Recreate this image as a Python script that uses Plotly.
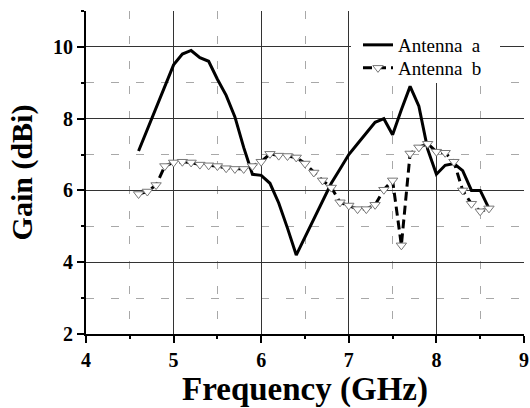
import plotly.graph_objects as go

freq_a = [4.6, 4.7, 4.8, 4.9, 5.0, 5.1, 5.2, 5.3, 5.4, 5.5, 5.6, 5.7, 5.8, 5.9, 6.0,
          6.1, 6.2, 6.3, 6.4, 6.5, 6.6, 6.7, 6.8, 6.9, 7.0, 7.1, 7.2, 7.3, 7.4, 7.5,
          7.6, 7.7, 7.8, 7.9, 8.0, 8.1, 8.2, 8.3, 8.4, 8.5, 8.6]
gain_a = [7.1, 7.7, 8.3, 8.9, 9.5, 9.8, 9.9, 9.7, 9.6, 9.1, 8.65, 8.05, 7.2, 6.45, 6.42,
          6.2, 5.65, 4.95, 4.2, 4.7, 5.2, 5.7, 6.2, 6.6, 7.0, 7.3, 7.6, 7.9, 8.0, 7.55,
          8.25, 8.9, 8.35, 7.15, 6.45, 6.7, 6.75, 6.55, 6.0, 6.0, 5.5]

freq_b = [4.6, 4.7, 4.8, 4.9, 5.0, 5.1, 5.2, 5.3, 5.4, 5.5, 5.6, 5.7, 5.8, 5.9, 6.0,
          6.1, 6.2, 6.3, 6.4, 6.5, 6.6, 6.7, 6.8, 6.9, 7.0, 7.1, 7.2, 7.3, 7.4, 7.5,
          7.6, 7.7, 7.8, 7.9, 8.0, 8.1, 8.2, 8.3, 8.4, 8.5, 8.6]
gain_b = [5.9, 5.97, 6.15, 6.68, 6.78, 6.8, 6.78, 6.72, 6.7, 6.68, 6.62, 6.6, 6.6, 6.68, 6.8,
          7.02, 6.97, 6.96, 6.92, 6.75, 6.5, 6.28, 6.08, 5.67, 5.58, 5.48, 5.48, 5.6, 6.02, 6.28,
          4.47, 7.03, 7.2, 7.3, 7.08, 7.05, 6.8, 6.0, 5.63, 5.42, 5.5]

x_ticks = [4, 5, 6, 7, 8, 9]
y_ticks = [2, 4, 6, 8, 10]

serif = "Liberation Serif"

fig = go.Figure()
fig.add_trace(go.Scatter(
    x=freq_a, y=gain_a, mode="lines", name="Antenna  a",
    line=dict(color="black", width=3), legend="legend",
))
fig.add_trace(go.Scatter(
    x=freq_b, y=gain_b, mode="lines+markers", name="Antenna  b",
    line=dict(color="black", width=3, dash="9px,5px"),
    marker=dict(symbol="triangle-down", size=9, color="white",
                line=dict(color="#777777", width=1)),
    legend="legend2",
))

axis_common = dict(
    showline=True, linecolor="black", linewidth=2,
    ticks="outside", ticklen=7, tickwidth=2, tickcolor="black",
    showgrid=True, gridcolor="#333333", gridwidth=1,
    zeroline=False, automargin=False,
    tickfont=dict(family=serif, size=20, color="black"),
    minor=dict(ticks="outside", ticklen=3, tickwidth=1.5, tickcolor="black",
               showgrid=True, gridcolor="#a8a8a8", gridwidth=1, griddash="8px,17px"),
)

fig.update_xaxes(
    range=[4, 9], tickvals=x_ticks, ticktext=[f"<b>{v}</b>" for v in x_ticks], minor_dtick=0.5,
    title=dict(text="<b>Frequency (GHz)</b>", font=dict(family=serif, size=33, color="black"),
               standoff=6),
    **axis_common,
)
fig.update_yaxes(
    range=[2, 11], tickvals=y_ticks, ticktext=[f"<b>{v}</b>" for v in y_ticks], minor_dtick=1,
    title=dict(text="<b>Gain (dBi)</b>", font=dict(family=serif, size=30, color="black"),
               standoff=12),
    **axis_common,
)

# white box behind the legend text (covers the grid in the legend area)
fig.add_shape(type="rect", xref="paper", yref="paper", layer="above",
              x0=(351 - 86) / 438, x1=(500 - 86) / 438,
              y0=1 - (83 - 11) / 323, y1=1.0,
              fillcolor="white", line=dict(width=0))

leg_common = dict(xanchor="left", yanchor="middle", bgcolor="rgba(0,0,0,0)", borderwidth=0,
                  font=dict(family=serif, size=19, color="black"), itemwidth=30)

fig.update_layout(
    width=530, height=408,
    margin=dict(l=86, r=6, t=11, b=74),
    plot_bgcolor="white", paper_bgcolor="white",
    showlegend=True,
    legend=dict(x=0.621, y=1 - (45 - 11) / 323, **leg_common),
    legend2=dict(x=0.621, y=1 - (68 - 11) / 323, **leg_common),
)

fig.write_html(
    "out.html",
    config={"displayModeBar": False},
    post_script="document.body.style.margin='0';document.body.style.overflow='hidden';",
)
